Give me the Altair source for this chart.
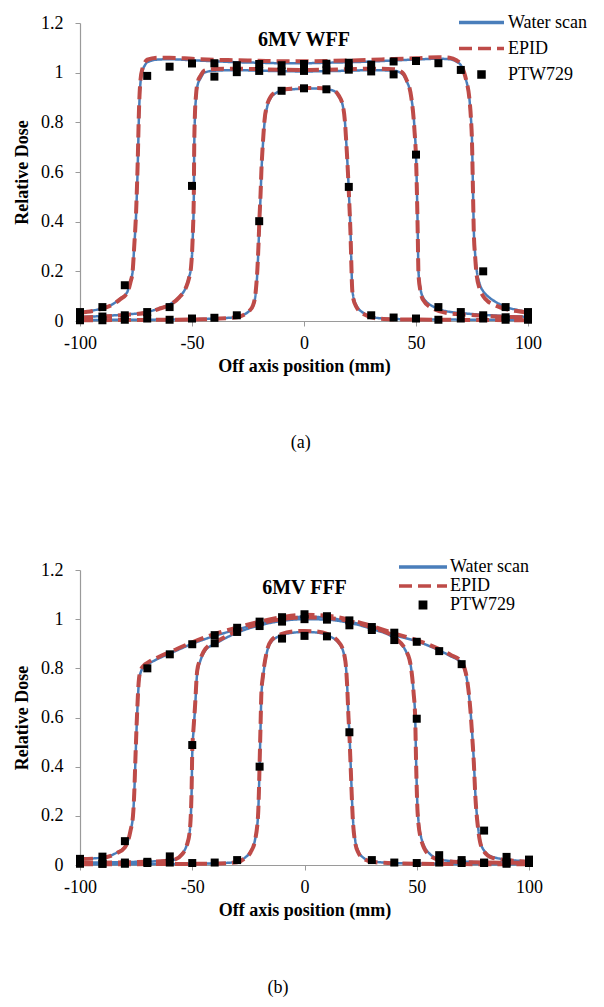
import altair as alt
import pandas as pd

SERIES = ["Water scan", "EPID", "PTW729"]
COLORS = ["#4A7EBB", "#BE4B48", "#000000"]
PTW_X = [-100, -90, -80, -70, -60, -50, -40, -30, -20, -10, 0, 10, 20, 30, 40, 50, 60, 70, 80, 90, 100]

# ---------------- 6MV WFF ----------------
WFF_L_X = [-100, -90, -85, -82, -79, -77.5, -76.5, -75.8, -75, -74.3, -73.6, -73, -72, -71, -70, -65, -60, -50, -40, -30,
           -20, -10, 0, 10, 20, 30, 40, 50, 60, 65, 68, 70, 71.5, 72.4, 73.9, 74.5, 75, 75.4, 75.8, 76.4,
           76.9, 78.4, 80, 82, 85, 90, 95, 100]
WFF_L_WATER = [0.035, 0.052, 0.07, 0.09, 0.115, 0.16, 0.2, 0.3, 0.42, 0.6, 0.85, 0.96, 1.01, 1.03, 1.042, 1.053, 1.054, 1.05, 1.046, 1.042,
               1.04, 1.038, 1.038, 1.04, 1.042, 1.045, 1.049, 1.053, 1.056, 1.054, 1.045, 1.03, 1.0, 0.97, 0.89, 0.82, 0.73, 0.55, 0.37, 0.27,
               0.22, 0.15, 0.12, 0.1, 0.08, 0.057, 0.045, 0.036]
WFF_L_EPID = [0.033, 0.05, 0.068, 0.088, 0.112, 0.155, 0.2, 0.3, 0.43, 0.62, 0.87, 0.97, 1.02, 1.042, 1.052, 1.06, 1.06, 1.056, 1.052, 1.05,
              1.048, 1.046, 1.046, 1.047, 1.049, 1.052, 1.055, 1.058, 1.062, 1.06, 1.05, 1.034, 1.0, 0.97, 0.89, 0.82, 0.72, 0.54, 0.36, 0.26,
              0.2, 0.13, 0.1, 0.08, 0.065, 0.048, 0.04, 0.034]

WFF_M_X = [-100, -90, -80, -70, -65, -59.4, -55.7, -52.7, -51.4, -50.4, -49.6, -49.2, -49.0, -48.7, -48.2, -47.5, -46, -44.6, -40, -30,
           -20, -10, 0, 10, 20, 30, 40, 43.4, 45.6, 47.9, 49.3, 50.1, 50.5, 50.8, 51.1, 52, 53, 58.1, 65.7, 70,
           80, 90, 100]
WFF_M_WATER = [0.016, 0.02, 0.026, 0.036, 0.05, 0.07, 0.097, 0.137, 0.175, 0.218, 0.352, 0.49, 0.7, 0.82, 0.9, 0.95, 0.98, 1.0, 1.008, 1.01,
               1.008, 1.006, 1.005, 1.006, 1.008, 1.01, 1.008, 0.998, 0.97, 0.9, 0.78, 0.64, 0.49, 0.35, 0.2, 0.13, 0.097, 0.056, 0.036, 0.032,
               0.025, 0.02, 0.017]
WFF_M_EPID = [0.014, 0.018, 0.024, 0.034, 0.048, 0.068, 0.095, 0.135, 0.17, 0.22, 0.36, 0.5, 0.71, 0.83, 0.91, 0.96, 0.99, 1.008, 1.015, 1.016,
              1.014, 1.012, 1.011, 1.012, 1.014, 1.016, 1.014, 1.004, 0.975, 0.9, 0.77, 0.63, 0.48, 0.34, 0.19, 0.12, 0.088, 0.048, 0.03, 0.027,
              0.021, 0.017, 0.015]

WFF_S_X = [-100, -80, -60, -45, -35, -30, -27, -24.5, -22.8, -21.6, -20.8, -20.3, -19.9, -19.4, -19.0, -18.4, -17.6, -16.5, -14.7, -12.5,
           -10.3, -5, 0, 5, 10, 13.5, 15.5, 17.4, 18.3, 18.8, 19.6, 20.2, 20.8, 21.1, 21.4, 21.8, 23.3, 27, 33, 40,
           60, 80, 100]
WFF_S_WATER = [0.004, 0.005, 0.006, 0.008, 0.012, 0.016, 0.025, 0.04, 0.06, 0.11, 0.2, 0.3, 0.4, 0.5, 0.6, 0.7, 0.8, 0.86, 0.9, 0.918,
               0.927, 0.933, 0.936, 0.936, 0.933, 0.926, 0.905, 0.863, 0.8, 0.73, 0.6, 0.486, 0.352, 0.25, 0.16, 0.11, 0.064, 0.03, 0.012, 0.008,
               0.006, 0.005, 0.004]
WFF_S_EPID = [0.003, 0.004, 0.005, 0.007, 0.011, 0.015, 0.024, 0.04, 0.062, 0.115, 0.21, 0.31, 0.41, 0.51, 0.61, 0.71, 0.81, 0.868, 0.906, 0.922,
              0.93, 0.936, 0.938, 0.938, 0.935, 0.928, 0.908, 0.865, 0.8, 0.73, 0.6, 0.48, 0.34, 0.24, 0.15, 0.1, 0.058, 0.026, 0.01, 0.007,
              0.005, 0.004, 0.003]

WFF_PTW_L = [0.036, 0.056, 0.144, 0.987, 1.024, 1.037, 1.038, 1.03, 1.035, 1.03, 1.035, 1.036, 1.04, 1.032, 1.045, 1.047, 1.038, 1.011, 0.2, 0.056, 0.036]
WFF_PTW_M = [0.018, 0.018, 0.023, 0.036, 0.056, 0.544, 0.984, 1.002, 1.007, 1.005, 1.007, 1.009, 1.012, 1.005, 0.993, 0.67, 0.056, 0.036, 0.023, 0.015, 0.023]
WFF_PTW_S = [0.003, 0.003, 0.005, 0.01, 0.005, 0.01, 0.013, 0.023, 0.402, 0.927, 0.937, 0.933, 0.54, 0.023, 0.014, 0.01, 0.005, 0.01, 0.01, 0.005, 0.005]

# ---------------- 6MV FFF ----------------
FFF_L_X = [-100, -90, -83.7, -80, -78.6, -77.5, -76.4, -75.8, -75.4, -74.6, -73.7, -72.7, -71.5, -70, -65, -60, -50, -40, -30, -20,
           -10, 0, 10, 20, 30, 40, 50, 60, 65, 70, 71.3, 72.4, 73.9, 74.8, 75.4, 76.1, 77.3, 79, 83.4, 92.2,
           100]
FFF_L_WATER = [0.025, 0.03, 0.05, 0.075, 0.1, 0.14, 0.2, 0.3, 0.4, 0.6, 0.75, 0.79, 0.805, 0.815, 0.84, 0.86, 0.9, 0.932, 0.958, 0.982,
               1.0, 1.01, 1.006, 0.99, 0.965, 0.935, 0.91, 0.873, 0.85, 0.82, 0.795, 0.752, 0.63, 0.52, 0.427, 0.29, 0.156, 0.074, 0.034, 0.02,
               0.015]
FFF_L_EPID = [0.024, 0.029, 0.048, 0.072, 0.098, 0.14, 0.2, 0.3, 0.41, 0.61, 0.76, 0.798, 0.812, 0.822, 0.846, 0.866, 0.906, 0.94, 0.966, 0.99,
              1.008, 1.018, 1.014, 0.998, 0.972, 0.942, 0.915, 0.878, 0.855, 0.826, 0.8, 0.755, 0.63, 0.51, 0.42, 0.28, 0.15, 0.07, 0.03, 0.018,
              0.013]

FFF_M_X = [-100, -80, -70, -62, -58.8, -54.4, -52.5, -51.2, -50.3, -50, -49.4, -48.8, -47.8, -46.3, -44.1, -39.7, -30, -20, -10, 0,
           10, 20, 30, 40.2, 45.3, 46.8, 47.5, 48.6, 49.3, 49.7, 50.4, 51.9, 55.6, 61.4, 70, 80, 100]
FFF_M_WATER = [0.01, 0.012, 0.014, 0.017, 0.02, 0.047, 0.08, 0.13, 0.29, 0.45, 0.55, 0.63, 0.78, 0.833, 0.874, 0.9, 0.945, 0.975, 0.993, 1.0,
               0.998, 0.985, 0.96, 0.92, 0.867, 0.833, 0.8, 0.7, 0.6, 0.43, 0.224, 0.115, 0.047, 0.02, 0.014, 0.012, 0.01]
FFF_M_EPID = [0.009, 0.011, 0.013, 0.016, 0.019, 0.045, 0.078, 0.13, 0.3, 0.46, 0.56, 0.64, 0.79, 0.84, 0.88, 0.906, 0.952, 0.982, 1.0, 1.007,
              1.005, 0.992, 0.966, 0.925, 0.87, 0.835, 0.8, 0.7, 0.6, 0.42, 0.21, 0.105, 0.04, 0.017, 0.012, 0.01, 0.009]

FFF_S_X = [-100, -60, -40, -30, -26.5, -24, -22.1, -20.7, -20.3, -20, -19.6, -19.2, -18.5, -17, -14.8, -10, -5, 0, 5, 10,
           16, 18.2, 19, 19.6, 20, 20.6, 21.5, 22.6, 24, 26.2, 30, 40, 60, 100]
FFF_S_WATER = [0.003, 0.004, 0.007, 0.012, 0.03, 0.055, 0.1, 0.2, 0.3, 0.4, 0.55, 0.69, 0.76, 0.854, 0.908, 0.935, 0.945, 0.948, 0.946, 0.935,
               0.894, 0.826, 0.73, 0.6, 0.54, 0.4, 0.2, 0.1, 0.055, 0.03, 0.015, 0.008, 0.005, 0.003]
FFF_S_EPID = [0.003, 0.004, 0.006, 0.011, 0.028, 0.052, 0.098, 0.2, 0.3, 0.41, 0.56, 0.7, 0.77, 0.86, 0.913, 0.94, 0.95, 0.952, 0.95, 0.94,
              0.898, 0.83, 0.73, 0.6, 0.53, 0.39, 0.19, 0.09, 0.05, 0.027, 0.013, 0.007, 0.004, 0.003]

FFF_PTW_L = [0.025, 0.034, 0.097, 0.80, 0.857, 0.898, 0.935, 0.965, 0.99, 1.008, 1.02, 1.012, 0.995, 0.968, 0.945, 0.908, 0.87, 0.817, 0.14, 0.033, 0.022]
FFF_PTW_M = [0.015, 0.005, 0.01, 0.013, 0.035, 0.488, 0.902, 0.948, 0.972, 0.99, 1.0, 0.998, 0.975, 0.956, 0.915, 0.595, 0.04, 0.02, 0.01, 0.01, 0.012]
FFF_PTW_S = [0.005, 0.005, 0.005, 0.008, 0.01, 0.008, 0.01, 0.02, 0.40, 0.921, 0.932, 0.93, 0.54, 0.02, 0.01, 0.008, 0.01, 0.008, 0.008, 0.005, 0.008]

LINE_PATH = "M-3,0H3"
SQUARE_PATH = "M-0.333,-0.333H0.333V0.333H-0.333Z"
FONT = "Liberation Serif"


def curve_df(series, parts):
    rows = []
    for field, xs, ys in parts:
        for xv, yv in zip(xs, ys):
            rows.append({"x": xv, "y": yv, "series": series, "field": field})
    return pd.DataFrame(rows)


def panel(title, water, epid, ptw, w, h, lx, ly, sym_size, row_pad, title_offset):
    water_df = curve_df("Water scan", water)
    epid_df = curve_df("EPID", epid)
    ptw_df = curve_df("PTW729", [(f, PTW_X, ys) for f, ys in ptw])

    leg = alt.Legend(title=None, orient="none", legendX=lx, legendY=ly,
                     symbolSize=sym_size, symbolStrokeWidth=3.5, labelOffset=17,
                     rowPadding=row_pad, padding=0, labelFont=FONT, labelFontSize=18,
                     labelColor="black", symbolFillColor="black")
    x = alt.X("x:Q", scale=alt.Scale(domain=[-100, 100], nice=False, zero=False),
              axis=alt.Axis(values=[-100, -50, 0, 50, 100], title="Off axis position (mm)",
                            labelFlush=False, labelExpr="'' + datum.value"))
    y = alt.Y("y:Q", scale=alt.Scale(domain=[0, 1.2], nice=False),
              axis=alt.Axis(values=[0, 0.2, 0.4, 0.6, 0.8, 1, 1.2], format="~g", title="Relative Dose"))
    color = alt.Color("series:N", scale=alt.Scale(domain=SERIES, range=COLORS), legend=leg)
    dash = alt.StrokeDash("series:N", scale=alt.Scale(domain=SERIES, range=[[1, 0], [13, 6], [1, 0]]), legend=leg)
    shape = alt.Shape("series:N", scale=alt.Scale(domain=SERIES, range=[LINE_PATH, LINE_PATH, SQUARE_PATH]), legend=leg)

    l1 = alt.Chart(water_df).mark_line(strokeWidth=2.5, interpolate="monotone").encode(
        x=x, y=y, color=color, strokeDash=dash, detail="field:N")
    l2 = alt.Chart(epid_df).mark_line(strokeWidth=4, interpolate="monotone").encode(
        x=x, y=y, color=color, strokeDash=dash, detail="field:N")
    pts = alt.Chart(ptw_df).mark_point(filled=True, size=576, opacity=1).encode(
        x=x, y=y, color=color, shape=shape)
    return alt.layer(l1, l2, pts).properties(
        width=w, height=h,
        title=alt.Title(title, offset=title_offset, font=FONT, fontSize=20, fontWeight="bold",
                        color="black", anchor="middle", frame="group"))


pa = panel("6MV WFF",
           [("L", WFF_L_X, WFF_L_WATER), ("M", WFF_M_X, WFF_M_WATER), ("S", WFF_S_X, WFF_S_WATER)],
           [("L", WFF_L_X, WFF_L_EPID), ("M", WFF_M_X, WFF_M_EPID), ("S", WFF_S_X, WFF_S_EPID)],
           [("L", WFF_PTW_L), ("M", WFF_PTW_M), ("S", WFF_PTW_S)],
           448, 298, 392, -10, 225, 7, -36)
pb = panel("6MV FFF",
           [("L", FFF_L_X, FFF_L_WATER), ("M", FFF_M_X, FFF_M_WATER), ("S", FFF_S_X, FFF_S_WATER)],
           [("L", FFF_L_X, FFF_L_EPID), ("M", FFF_M_X, FFF_M_EPID), ("S", FFF_S_X, FFF_S_EPID)],
           [("L", FFF_PTW_L), ("M", FFF_PTW_M), ("S", FFF_PTW_S)],
           449, 295, 333, -13, 256, 0, -37)

ta = alt.vconcat(pa, title=alt.Title("(a)", orient="bottom", offset=59, font=FONT, fontSize=18,
                                      fontWeight="normal", color="black", anchor="middle"))
tb = alt.vconcat(pb, title=alt.Title("(b)", orient="bottom", offset=60, font=FONT, fontSize=18,
                                      fontWeight="normal", color="black", anchor="middle"))

chart = alt.vconcat(ta, tb, spacing=105).resolve_scale(
    color="independent", shape="independent", strokeDash="independent"
).resolve_legend(
    color="independent", shape="independent", strokeDash="independent"
).configure_view(stroke=None).configure_axis(
    grid=False, labelFont=FONT, labelFontSize=18, labelColor="black",
    titleFont=FONT, titleFontSize=18, titleFontWeight="bold", titleColor="black",
    domainColor="#9a9a9a", tickColor="#9a9a9a", tickSize=5, domainWidth=1.2,
).configure_axisX(labelPadding=8, titlePadding=5).configure_axisY(labelPadding=12, titlePadding=9)

chart.save("out.html", embed_options={"renderer": "svg", "actions": False})
